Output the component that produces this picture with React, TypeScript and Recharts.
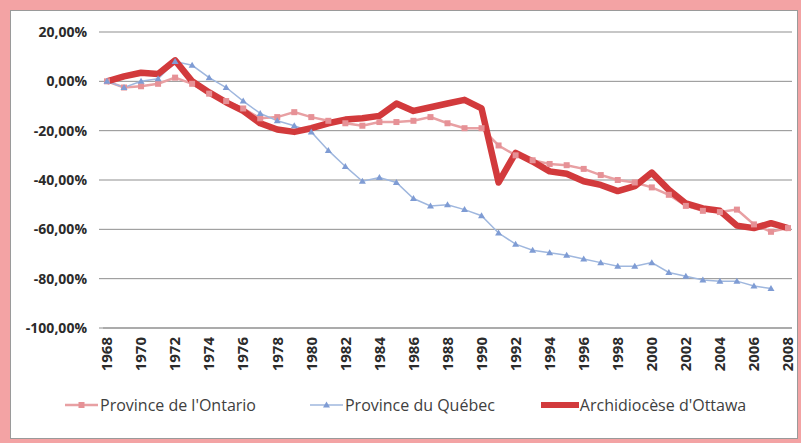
import { LineChart, Line, XAxis, YAxis, CartesianGrid, Legend } from "recharts"

const years = [
  1968, 1969, 1970, 1971, 1972, 1973, 1974, 1975, 1976, 1977, 1978, 1979, 1980, 1981,
  1982, 1983, 1984, 1985, 1986, 1987, 1988, 1989, 1990, 1991, 1992, 1993, 1994, 1995,
  1996, 1997, 1998, 1999, 2000, 2001, 2002, 2003, 2004, 2005, 2006, 2007, 2008,
]

const ontario = [
  0, -2.5, -2, -1, 1.5, -1, -5, -8, -11, -15, -14.5, -12.5, -14.5, -16,
  -17, -18, -16.5, -16.5, -16, -14.5, -17, -19, -19, -26, -30, -32, -33.5, -34,
  -35.5, -38, -40, -41, -43, -46, -50.5, -52.5, -53, -52, -58, -61, -59.5,
]

const quebec: (number | null)[] = [
  0, -2.5, 0, 1, 8, 6.5, 1.5, -2.5, -8, -13, -16, -18, -20.5, -28,
  -34.5, -40.5, -39, -41, -47.5, -50.5, -50, -52, -54.5, -61.5, -66, -68.5, -69.5, -70.5,
  -72, -73.5, -75, -75, -73.5, -77.5, -79, -80.5, -81, -81, -83, -84, null,
]

const ottawa = [
  0, 2, 3.5, 3, 8.5, 0, -4.5, -8.5, -12, -17, -19.5, -20.5, -19, -17,
  -15.5, -15, -14, -9, -12, -10.5, -9, -7.5, -11, -41, -29, -32.5, -36.5, -37.5,
  -40.5, -42, -44.5, -42.5, -37, -44, -49.5, -51.5, -52.5, -58.5, -59.5, -57.5, -59.5,
]

const yTicks = [20, 0, -20, -40, -60, -80, -100]

const data = years.map((year, i) => ({
  year,
  ontario: ontario[i],
  quebec: quebec[i],
  ottawa: ottawa[i],
}))

const FONT = "'Open Sans', sans-serif"
const ONTARIO = "#e8a0a3"
const QUEBEC = "#9fb7de"
const OTTAWA = "#d23a3c"

const formatPct = (v: number) => `${v.toFixed(2).replace(".", ",")}%`

function YearTick({ x, y, payload }: any) {
  return (
    <text
      transform={`translate(${x},${y + 7}) rotate(-90)`}
      textAnchor="end"
      dy="0.35em"
      fontFamily={FONT}
      fontSize={15}
      fontWeight={700}
      fill="#2b2b2b"
    >
      {payload.value}
    </text>
  )
}

function SquareDot({ cx, cy, index }: any) {
  if (cx == null || cy == null) return <g key={index} />
  return <rect key={index} x={cx - 3} y={cy - 3} width={6} height={6} fill="#e69196" />
}

function TriangleDot({ cx, cy, index }: any) {
  if (cx == null || cy == null) return <g key={index} />
  return (
    <path
      key={index}
      d={`M${cx},${cy - 3.5} L${cx + 3.5},${cy + 2.5} L${cx - 3.5},${cy + 2.5} Z`}
      fill="#7f9cd4"
    />
  )
}

function ChartLegend() {
  const text = { fontFamily: FONT, fontSize: 16, color: "#404040" }
  return (
    <div style={{ display: "flex", alignItems: "center", height: 30, paddingLeft: 65 }}>
      <svg width={33} height={10}>
        <line x1={0} y1={5} x2={33} y2={5} stroke={ONTARIO} strokeWidth={2.5} />
        <rect x={13.5} y={2} width={6} height={6} fill="#e69196" />
      </svg>
      <span style={{ ...text, marginLeft: 2, marginRight: 54 }}>Province de l'Ontario</span>
      <svg width={33} height={10}>
        <line x1={0} y1={5} x2={33} y2={5} stroke={QUEBEC} strokeWidth={1.5} />
        <path d="M16.5,1.5 L20,7.5 L13,7.5 Z" fill="#7f9cd4" />
      </svg>
      <span style={{ ...text, marginLeft: 2, marginRight: 46 }}>Province du Québec</span>
      <svg width={38} height={10}>
        <line x1={0} y1={5} x2={38} y2={5} stroke={OTTAWA} strokeWidth={6} />
      </svg>
      <span style={{ ...text, marginLeft: 1 }}>Archidiocèse d'Ottawa</span>
    </div>
  )
}

export default function App() {
  return (
    <div style={{ position: "absolute", left: 0, top: 0, width: 801, height: 443, background: "#f3a3a4" }}>
      <div
        style={{
          position: "absolute",
          left: 10,
          top: 10,
          width: 788,
          height: 429,
          boxSizing: "border-box",
          border: "1px solid #9a9a9a",
          background: "#fff",
        }}
      />
      <div style={{ position: "absolute", left: 0, top: 0 }}>
        <LineChart width={801} height={443} data={data} margin={{ top: 32, right: 9, left: 12, bottom: 23 }}>
          <CartesianGrid vertical={false} stroke="#8f8f8f" />
          <XAxis
            dataKey="year"
            interval={1}
            padding={{ left: 4, right: 4 }}
            tick={<YearTick />}
            tickLine={false}
            tickSize={0}
            height={62}
            axisLine={{ stroke: "#8f8f8f" }}
          />
          <YAxis
            domain={[-100, 20]}
            ticks={yTicks}
            width={91}
            tickFormatter={formatPct}
            tick={{ fontFamily: FONT, fontSize: 14, fontWeight: 700, fill: "#2b2b2b" }}
            tickSize={4}
            tickMargin={12}
            tickLine={{ stroke: "#8f8f8f" }}
            axisLine={false}
          />
          <Legend verticalAlign="bottom" content={<ChartLegend />} wrapperStyle={{ left: 0, width: 801 }} />
          <Line
            dataKey="ontario"
            name="Province de l'Ontario"
            stroke={ONTARIO}
            strokeWidth={2.5}
            dot={<SquareDot />}
            isAnimationActive={false}
          />
          <Line
            dataKey="quebec"
            name="Province du Québec"
            stroke={QUEBEC}
            strokeWidth={1.5}
            dot={<TriangleDot />}
            isAnimationActive={false}
          />
          <Line
            dataKey="ottawa"
            name="Archidiocèse d'Ottawa"
            stroke={OTTAWA}
            strokeWidth={6.5}
            strokeLinejoin="round"
            dot={false}
            isAnimationActive={false}
          />
        </LineChart>
      </div>
    </div>
  )
}
